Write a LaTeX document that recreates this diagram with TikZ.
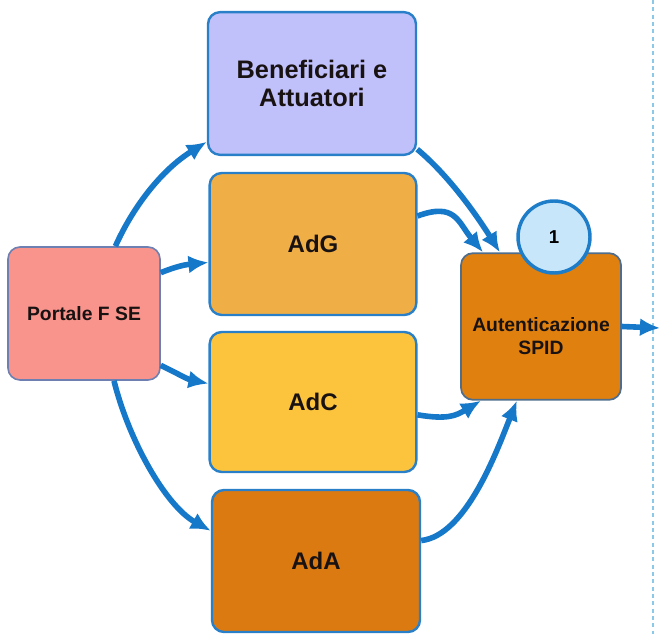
\documentclass[tikz,border=0pt]{standalone}
\usepackage{fontspec}
\setmainfont{Liberation Sans}
\usetikzlibrary{arrows.meta}

\begin{document}
\begin{tikzpicture}[x=0.75pt,y=0.75pt,yscale=-1,xscale=1,
  box/.style={draw={rgb, 255:red, 41; green, 128; blue, 201}, line width=1.8pt, rounded corners=9pt,
    minimum width=155pt, minimum height=106pt, inner sep=0pt, align=center,
    text={rgb, 255:red, 25; green, 18; blue, 18}, font=\bfseries\fontsize{18}{20}\selectfont},
  link/.style={draw={rgb, 255:red, 22; green, 120; blue, 200}, line width=4.2pt,
    -{Latex[length=15pt,width=13.5pt]}}]
\useasboundingbox (0,0) rectangle (660,634);

%Straight Lines (dashed border)
\draw [color={rgb, 255:red, 140; green, 200; blue, 232}, line width=0.9pt, dash pattern={on 3pt off 2.5pt}] (653,0) -- (653,634);

% Boxes
\node [box, fill={rgb, 255:red, 248; green, 148; blue, 140}, draw={rgb, 255:red, 110; green, 128; blue, 178}, line width=1.2pt,
  minimum width=114pt, minimum height=99.75pt, font=\bfseries\fontsize{14.5}{17}\selectfont] (portale) at (84,313.5) {Portale F SE};
\node [box, fill={rgb, 255:red, 192; green, 192; blue, 250}, minimum width=156pt, minimum height=107pt,
  font=\bfseries\fontsize{19}{20.5}\selectfont] (bene) at (312,83.5) {Beneficiari e\\Attuatori};
\node [box, fill={rgb, 255:red, 240; green, 174; blue, 70}, minimum height=106.5pt] (adg) at (313,244) {AdG};
\node [box, fill={rgb, 255:red, 252; green, 196; blue, 60}, minimum height=105pt] (adc) at (313,402) {AdC};
\node [box, fill={rgb, 255:red, 220; green, 122; blue, 18}, minimum width=156pt, minimum height=106.5pt] (ada) at (316,561) {AdA};
\node [box, fill={rgb, 255:red, 224; green, 128; blue, 14}, draw={rgb, 255:red, 80; green, 110; blue, 140}, line width=1.3pt,
  minimum width=120pt, minimum height=110pt, font=\bfseries\fontsize{14.5}{17.5}\selectfont] (auth) at (541,326.5)
  {\raisebox{-9pt}[\height][\depth]{\begin{tabular}{@{}c@{}}Autenticazione\\SPID\end{tabular}}};
% Circle
\node [circle, draw={rgb, 255:red, 30; green, 125; blue, 200}, line width=2.6pt, fill={rgb, 255:red, 200; green, 230; blue, 250},
  minimum size=54pt, inner sep=0pt, font=\bfseries\fontsize{14}{16}\selectfont] (one) at (554,237) {1};
\coordinate (out) at (660,328);

% Arrows
\draw [link] (portale.65) .. controls +(18,-40) and +(-45,28) .. (bene.209);
\draw [link] (portale.28) .. controls +(20,-8) and +(-20,2) .. (adg.190);
\draw [link] (portale.326) .. controls +(20,10) and +(-20,-4) .. (adc.170);
\draw [link] (portale.294) .. controls +(15,60) and +(-45,-25) .. (ada.164);
\draw [link] (bene.328) .. controls +(30,25) and +(-25,-40) .. (auth.119);
\draw [link] (adg.15) .. controls +(38,-14) and +(-25,-30) .. (auth.128);
\draw [link] (adc.353) .. controls +(30,5) and +(-25,15) .. (auth.231);
\draw [link] (ada.11) .. controls +(45,-5) and +(-20,50) .. (auth.252);
\draw [link] (auth.east) -- (out);

\end{tikzpicture}
\end{document}
